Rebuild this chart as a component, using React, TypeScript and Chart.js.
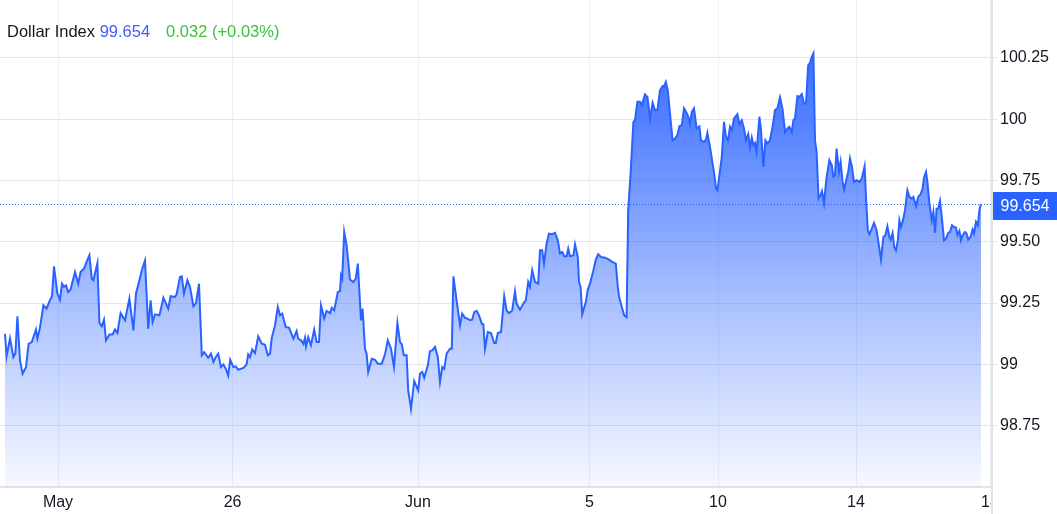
import React, { useEffect, useRef } from "react";
import { Chart, registerables } from "chart.js";

Chart.register(...registerables);

// ---- data (time index, price) ----
const times: number[] = [
  0, 0.4, 1.25, 2.1, 2.6, 3.1, 3.75, 4.4, 5.25, 5.9,
  6.7, 7.75, 8.1, 8.75, 9.6, 10.4, 11.1, 11.75, 12.25, 13.1,
  13.75, 14.25, 14.75, 15.25, 15.8, 16.4, 17.5, 18.3, 18.9, 19.75,
  20.4, 21.1, 21.7, 22.1, 23.1, 23.6, 24.2, 24.75, 25.25, 26.1,
  26.9, 27.5, 28.1, 28.9, 30, 31.1, 32.1, 32.75, 33.6, 34.2,
  35, 35.8, 36.4, 36.9, 37.5, 38.6, 39.6, 40.8, 41.4, 42.5,
  42.9, 43.75, 44.2, 44.75, 45.6, 46.25, 47.1, 47.75, 48.5, 49.2,
  49.8, 50.8, 51.5, 52.1, 52.7, 53.3, 54, 54.6, 55.2, 55.8,
  56.3, 57.1, 57.7, 58.3, 59.6, 60.4, 60.8, 61.25, 61.8, 62.5,
  63.3, 64.2, 65, 65.7, 66.25, 66.7, 67.5, 68.2, 68.75, 69.3,
  70.2, 71, 72.1, 72.9, 73.3, 74, 74.6, 75, 75.25, 75.8,
  76.5, 77.3, 77.9, 78.5, 79, 79.8, 80.4, 81.25, 81.7, 82.3,
  83.2, 83.75, 84, 84.3, 84.8, 85.4, 86.25, 87.1, 87.7, 88.2,
  89, 89.4, 90, 90.4, 90.8, 91.7, 92.5, 93.2, 94.2, 95,
  95.7, 96.5, 97.25, 98.1, 98.75, 99.2, 99.7, 100.4, 100.8, 101.5,
  102.3, 103.3, 103.75, 104.3, 104.8, 105.7, 106.25, 106.8, 107.5, 108.2,
  108.75, 109.3, 109.8, 110.4, 111.25, 111.7, 112.1, 112.9, 113.75, 114.3,
  115, 115.7, 116.25, 116.8, 117.3, 117.9, 118.5, 119.2, 119.6, 120,
  120.7, 121.5, 122.3, 122.7, 123.2, 124, 124.3, 124.8, 125.4, 126,
  126.8, 127.5, 127.9, 128.75, 129.6, 130.2, 130.8, 131.25, 131.8, 132.5,
  133.3, 133.75, 134.3, 134.75, 135.4, 136, 136.8, 137.5, 138.2, 138.75,
  139.3, 139.8, 140.4, 140.8, 141.25, 142.1, 142.5, 143.2, 143.5, 143.9,
  144.3, 145.2, 145.7, 146.25, 147.1, 147.7, 148.3, 149, 150, 151,
  151.8, 152.7, 153.2, 153.5, 154.2, 154.8, 155.4, 155.8, 156.4, 157.1,
  157.5, 158.1, 158.75, 159.2, 160, 160.6, 161.25, 161.9, 162.5, 163.1,
  163.75, 164.4, 164.75, 165.2, 165.7, 166.25, 166.9, 167.5, 168.1, 168.6,
  169.2, 169.75, 170.25, 170.8, 171.25, 171.7, 172.25, 172.9, 173.6, 174,
  174.75, 175.25, 175.6, 176.25, 176.9, 177.3, 177.75, 178.1, 178.6, 179.2,
  179.75, 180.25, 180.75, 181.25, 181.7, 182.25, 183.1, 183.6, 184.2, 184.75,
  185.25, 185.8, 186.25, 186.7, 187.1, 187.5, 187.9, 188.6, 189, 189.6,
  190.1, 190.6, 191.25, 191.9, 192.5, 193.1, 193.75, 194.4, 195, 195.6,
  196.1, 196.7, 197.1, 197.5, 198.1, 198.6, 199.2, 199.75, 200.25, 200.8,
  201.25, 201.7, 202.1, 202.5, 202.9, 203.4, 203.9, 204.25, 204.75, 205.4,
  206.1, 206.7, 207.1, 207.5, 207.9, 208.5, 208.9, 209.4, 209.8, 210.4,
  210.8, 211.25, 211.7, 212.25, 212.9, 213.6, 214.2, 214.9, 215.25, 215.7,
  216.1, 216.7, 217.25, 217.9, 218.4, 219, 219.6, 220.1, 220.6, 221.1,
  221.4, 221.9, 222.3, 222.75, 223.2, 223.6, 224, 224.4, 225, 225.6,
  226.1, 226.7, 227.1, 227.75, 228.3, 228.9, 229.4, 229.75, 230.25, 230.6,
  231.1, 231.7, 232.1, 232.5, 232.9, 233.3, 233.75, 234.2, 234.75, 235.25,
  235.8, 236.25, 236.75, 237.25, 237.75, 238.1, 238.6, 239, 239.4, 240,
  240.4, 240.8, 241.4, 241.9, 242.25, 242.75, 243.2, 243.6, 244,
];

const values: number[] = [
  99.125, 99.033, 99.106, 99.03, 99.045, 99.196, 99.016, 98.962, 98.989, 99.084,
  99.091, 99.142, 99.105, 99.15, 99.241, 99.227, 99.257, 99.278, 99.4, 99.289,
  99.264, 99.329, 99.316, 99.322, 99.295, 99.305, 99.377, 99.329, 99.377, 99.391,
  99.418, 99.445, 99.35, 99.343, 99.413, 99.169, 99.155, 99.182, 99.098, 99.122,
  99.122, 99.142, 99.128, 99.209, 99.18, 99.268, 99.139, 99.289, 99.343, 99.384,
  99.424, 99.146, 99.261, 99.173, 99.204, 99.2, 99.272, 99.227, 99.278, 99.275,
  99.286, 99.356, 99.359, 99.289, 99.343, 99.316, 99.237, 99.25, 99.329, 99.037,
  99.05, 99.027, 99.044, 99.01, 99.03, 99.044, 98.989, 99.0, 98.982, 98.955,
  99.019, 98.989, 98.992, 98.978, 98.986, 99.0, 99.041, 99.03, 99.061, 99.046,
  99.114, 99.084, 99.08, 99.037, 99.044, 99.109, 99.159, 99.234, 99.2, 99.207,
  99.152, 99.15, 99.105, 99.136, 99.105, 99.098, 99.084, 99.109, 99.073, 99.111,
  99.078, 99.142, 99.091, 99.091, 99.241, 99.187, 99.218, 99.209, 99.231, 99.22,
  99.295, 99.299, 99.363, 99.35, 99.54, 99.486, 99.346, 99.336, 99.35, 99.411,
  99.18, 99.227, 99.064, 99.044, 98.969, 99.023, 99.019, 99.003, 99.003, 99.041,
  99.098, 99.064, 98.989, 99.169, 99.091, 99.082, 99.037, 99.037, 98.894, 98.819,
  98.932, 98.894, 98.962, 98.969, 98.946, 98.996, 99.054, 99.057, 99.071, 99.03,
  98.928, 98.989, 98.982, 99.044, 99.064, 99.064, 99.359, 99.261, 99.159, 99.207,
  99.19, 99.186, 99.18, 99.182, 99.213, 99.218, 99.2, 99.166, 99.163, 99.064,
  99.132, 99.128, 99.087, 99.087, 99.128, 99.132, 99.186, 99.278, 99.22, 99.209,
  99.22, 99.298, 99.248, 99.223, 99.248, 99.261, 99.336, 99.316, 99.384, 99.336,
  99.329, 99.465, 99.465, 99.411, 99.493, 99.533, 99.531, 99.536, 99.506, 99.452,
  99.458, 99.441, 99.441, 99.472, 99.441, 99.445, 99.49, 99.438, 99.336, 99.316,
  99.204, 99.254, 99.305, 99.329, 99.384, 99.427, 99.449, 99.438, 99.435, 99.427,
  99.418, 99.411, 99.316, 99.278, 99.234, 99.2, 99.193, 99.629, 99.778, 99.989,
  99.996, 100.071, 100.071, 100.057, 100.101, 100.091, 100.003, 100.067, 100.037, 100.037,
  100.118, 100.135, 100.132, 100.152, 100.118, 100.023, 99.914, 99.921, 99.935, 99.971,
  99.976, 100.044, 100.03, 100.012, 99.982, 100.03, 100.044, 99.962, 99.971, 99.914,
  99.907, 99.917, 99.944, 99.887, 99.819, 99.778, 99.717, 99.71, 99.771, 99.846,
  99.989, 99.928, 99.914, 99.969, 99.955, 100.003, 100.02, 99.98, 99.996, 99.962,
  99.914, 99.939, 99.884, 99.925, 99.894, 99.903, 99.867, 100.01, 99.955, 99.805,
  99.914, 99.901, 99.914, 99.969, 100.037, 100.044, 100.089, 100.04, 99.948, 99.962,
  99.969, 99.948, 99.996, 100.003, 100.094, 100.091, 100.102, 100.064, 100.064, 100.22,
  100.23, 100.254, 100.268, 99.914, 99.867, 99.676, 99.69, 99.707, 99.658, 99.765,
  99.833, 99.812, 99.765, 99.771, 99.88, 99.785, 99.826, 99.744, 99.713, 99.758,
  99.785, 99.84, 99.808, 99.744, 99.751, 99.744, 99.758, 99.808, 99.683, 99.547,
  99.531, 99.554, 99.577, 99.547, 99.493, 99.427, 99.52, 99.527, 99.563, 99.52,
  99.509, 99.536, 99.479, 99.465, 99.506, 99.588, 99.56, 99.581, 99.629, 99.71,
  99.683, 99.676, 99.683, 99.645, 99.683, 99.694, 99.717, 99.762, 99.785, 99.744,
  99.656, 99.588, 99.622, 99.536, 99.635, 99.635, 99.667, 99.601, 99.506, 99.513,
  99.536, 99.54, 99.567, 99.56, 99.558, 99.527, 99.544, 99.506, 99.527, 99.54,
  99.534, 99.509, 99.52, 99.55, 99.534, 99.581, 99.567, 99.629, 99.654,
];

const xTickPositions: number[] = [13.25, 56.9, 103.25, 146.1, 178.25, 212.75, 246.25];
const xTickLabels: string[] = ["May", "26", "Jun", "5", "10", "14", "18"];
const yTickValues: number[] = [98.75, 99, 99.25, 99.5, 99.75, 100, 100.25];
const yTickLabels: string[] = ["98.75", "99", "99.25", "99.50", "99.75", "100", "100.25"];

const titleText = "Dollar Index";
const lastPrice = 99.654;
const lastPriceLabel = "99.654";
const changeLabel = "0.032 (+0.03%)";

const FONT = '"Liberation Sans", Arial, sans-serif';
const BLUE = "#2962ff";
const TEXT = "#131722";

const priceMarker = {
  id: "priceMarker",
  afterDatasetsDraw(chart: any) {
    const { ctx, chartArea } = chart;
    const y = Math.round(chart.scales.y.getPixelForValue(lastPrice)) + 0.5;
    ctx.save();
    ctx.strokeStyle = BLUE;
    ctx.lineWidth = 1;
    ctx.setLineDash([1, 2]);
    ctx.beginPath();
    ctx.moveTo(chartArea.left, y);
    ctx.lineTo(chartArea.right, y);
    ctx.stroke();
    ctx.restore();
  },
  afterDraw(chart: any) {
    const { ctx, chartArea, width, height } = chart;
    ctx.save();
    // panel below the y axis hides overflow of the last x label
    ctx.fillStyle = "#ffffff";
    ctx.fillRect(chartArea.right, chartArea.bottom + 1, width - chartArea.right, height - chartArea.bottom);
    // y axis separator, full height
    ctx.fillStyle = "#e3e3e3";
    ctx.fillRect(chartArea.right - 1, 0, 2, height);
    // last price badge
    const y = chart.scales.y.getPixelForValue(lastPrice);
    ctx.fillStyle = BLUE;
    ctx.fillRect(chartArea.right + 1, Math.round(y) - 12, width - chartArea.right - 1, 28);
    ctx.fillStyle = "#ffffff";
    ctx.font = `16px ${FONT}`;
    ctx.textAlign = "left";
    ctx.textBaseline = "middle";
    ctx.fillText(lastPriceLabel, chartArea.right + 8.5, Math.round(y) + 3);
    ctx.restore();
  },
};

export default function App() {
  const canvasRef = useRef<HTMLCanvasElement | null>(null);

  useEffect(() => {
    document.body.style.margin = "0";
    const canvas = canvasRef.current;
    if (!canvas) return;
    const data = times.map((t, i) => ({ x: t, y: values[i] }));
    const chart = new Chart(canvas, {
      type: "line",
      data: {
        datasets: [
          {
            data,
            borderColor: BLUE,
            borderWidth: 2,
            pointRadius: 0,
            tension: 0,
            fill: "start",
            backgroundColor: (ctx: any) => {
              const { chart: c } = ctx;
              const area = c.chartArea;
              if (!area) return "rgba(41,98,255,0.4)";
              const g = c.ctx.createLinearGradient(0, area.top, 0, area.bottom);
              g.addColorStop(0, "rgba(41,98,255,0.97)");
              g.addColorStop(0.25, "rgba(41,98,255,0.8)");
              g.addColorStop(0.6, "rgba(41,98,255,0.42)");
              g.addColorStop(1, "rgba(41,98,255,0.04)");
              return g;
            },
          },
        ],
      },
      options: {
        responsive: false,
        animation: false,
        devicePixelRatio: 1,
        layout: { padding: 0 },
        plugins: {
          legend: { display: false },
          title: { display: false },
          tooltip: { enabled: false },
        },
        scales: {
          x: {
            type: "linear",
            min: -1.25,
            max: 246.75,
            afterBuildTicks: (scale: any) => {
              scale.ticks = xTickPositions.map((v) => ({ value: v }));
            },
            afterFit: (scale: any) => {
              scale.height = 27;
              scale.paddingLeft = 0;
              scale.paddingRight = 0;
            },
            ticks: {
              autoSkip: false,
              maxRotation: 0,
              padding: 6,
              color: TEXT,
              font: { size: 16, family: FONT },
              callback: (_v: any, i: number) => xTickLabels[i],
            },
            grid: { color: "#edf0f5", lineWidth: 1, drawTicks: false },
            border: { display: true, color: "#e3e3e3", width: 2 },
          },
          y: {
            type: "linear",
            position: "right",
            min: 98.5,
            max: 100.486,
            afterBuildTicks: (scale: any) => {
              scale.ticks = yTickValues.map((v) => ({ value: v }));
            },
            afterFit: (scale: any) => {
              scale.width = 65;
              scale.paddingTop = 0;
              scale.paddingBottom = 0;
            },
            ticks: {
              padding: 3,
              color: TEXT,
              font: { size: 16, family: FONT },
              callback: (_v: any, i: number) => yTickLabels[i],
            },
            grid: { color: "#e6e6e6", lineWidth: 1, drawTicks: true, tickLength: 5 },
            border: { display: false },
          },
        },
      },
      plugins: [priceMarker],
    } as any);
    return () => chart.destroy();
  }, []);

  return (
    <div style={{ position: "relative", width: 1057, height: 514 }}>
      <canvas ref={canvasRef} width={1057} height={514} style={{ display: "block" }} />
      <div
        style={{
          position: "absolute",
          left: 7,
          top: 23,
          font: `16.5px ${FONT}`,
          lineHeight: "16px",
          color: TEXT,
          whiteSpace: "nowrap",
        }}
      >
        {titleText} <span style={{ color: "#3f5efb" }}>{lastPriceLabel}</span>
        <span style={{ color: "#3cc23c", marginLeft: 16 }}>{changeLabel}</span>
      </div>
    </div>
  );
}
